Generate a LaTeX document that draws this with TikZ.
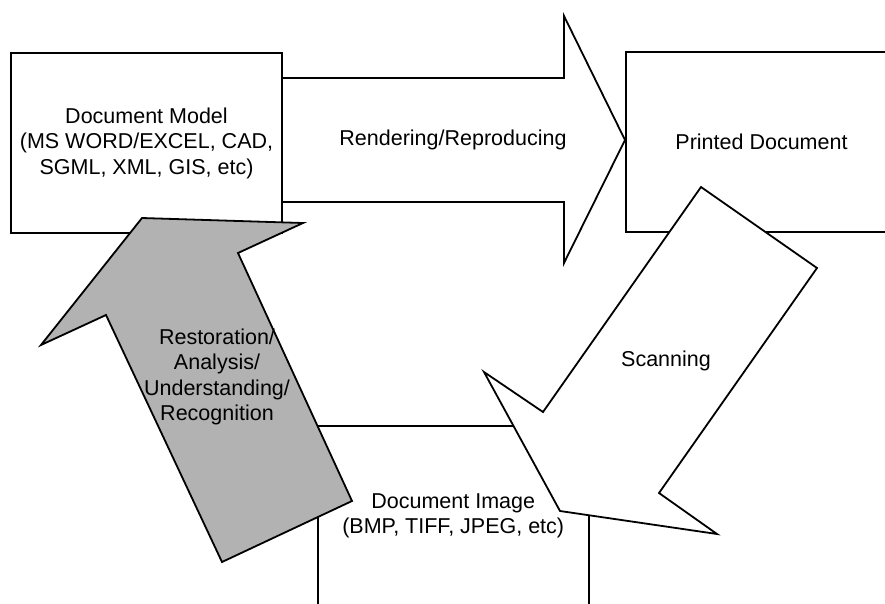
\documentclass[tikz,border=0pt]{standalone}
\usepackage{fontspec}
\setmainfont{Liberation Sans}
\usetikzlibrary{positioning}
\definecolor{arrowgray}{RGB}{178, 178, 178}

\begin{document}
\begin{tikzpicture}[x=1pt, y=-1pt, line width=1.8pt, line join=miter,
    docbox/.style={draw, fill=white, minimum width=271pt, minimum height=180pt,
        align=center, font=\fontsize{21.5}{25.5}\selectfont},
    lbl/.style={align=center, inner sep=0pt, font=\fontsize{21.5}{25.5}\selectfont}]
    \useasboundingbox (0,0) rectangle (885,603);
    \clip (0,0) rectangle (885,603);

    % Rendering arrow
    \draw[fill=white] (282,78) -- (564,78) -- (564,16) -- (625,140) -- (564,263) -- (564,202) -- (282,202);
    \node[lbl] (render) at (453,140) {Rendering/Reproducing};

    % Documents
    \node[docbox] (model) at (146.5,143) {Document Model\\(MS WORD/EXCEL, CAD,\\SGML, XML, GIS, etc)};
    \node[docbox] (printed) at (761.5,142) {Printed Document};
    \node[docbox] (image) at (453.2,516) {Document Image\\(BMP, TIFF, JPEG, etc)};

    % Scanning arrow
    \draw[fill=white] (701,187) -- (817,268) -- (659,493) -- (717,534) -- (560,511) -- (484,372) -- (543,412) -- cycle;
    \node[lbl] (scan) at (666,361) {Scanning};

    % Restoration arrow
    \draw[fill=arrowgray] (142,218) -- (303,223) -- (238,253) -- (352,501) -- (222,562) -- (106,315) -- (41,345) -- cycle;
    \node[lbl] (restore) at (217,377) {Restoration/\\Analysis/\\Understanding/\\Recognition};
\end{tikzpicture}
\end{document}
